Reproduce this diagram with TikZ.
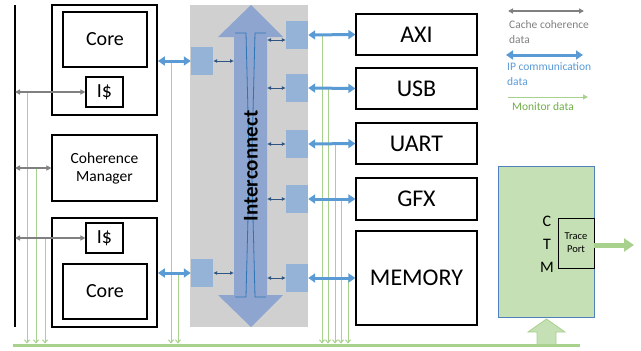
\documentclass[tikz,border=0pt]{standalone}
\usepackage{fontspec}
\setmainfont{Carlito}
\usetikzlibrary{arrows.meta}

\definecolor{ccgray}{RGB}{128,128,128}
\definecolor{ipblue}{RGB}{91,155,213}
\definecolor{nidark}{RGB}{46,84,130}
\definecolor{nifill}{RGB}{149,179,215}
\definecolor{icfill}{RGB}{142,165,207}
\definecolor{icline}{RGB}{46,117,182}
\definecolor{bggray}{RGB}{208,208,208}
\definecolor{monline}{RGB}{169,209,142}
\definecolor{ctmfill}{RGB}{197,224,180}
\definecolor{ctmedge}{RGB}{79,129,189}
\definecolor{mongreen}{RGB}{112,173,71}

\tikzset{
    box/.style={draw=black, line width=1.2pt, inner sep=0pt},
    outerbox/.style={box, line width=1.8pt},
    nibox/.style={fill=nifill, inner sep=0pt, minimum width=22, minimum height=28},
    periph/.style={box, minimum width=121, font=\fontsize{24}{28}\selectfont},
    cc/.style={draw=ccgray, line width=1.5pt, {Triangle[length=5pt,width=5pt]}-{Triangle[length=5pt,width=5pt]}},
    ip/.style={draw=ipblue, line width=3pt, {Triangle[length=7pt,width=9pt]}-{Triangle[length=7pt,width=9pt]}},
    nilink/.style={draw=nidark, line width=0.8pt, {Latex[length=4pt,width=4pt]}-{Latex[length=4pt,width=4pt]}},
    monitor/.style={draw=monline, line width=1pt, -{Straight Barb[length=3pt,width=5pt]}},
    legend/.style={anchor=west, align=left, inner sep=0pt, font=\fontsize{11.5}{15}\selectfont}
}

\begin{document}
\begin{tikzpicture}[x=1pt, y=-1pt]
    \useasboundingbox (0,0) rectangle (641,351);

    % bus lines
    \coordinate (bus) at (15,5);
    \coordinate (busend) at (15,327);
    \coordinate (monL) at (13,345);
    \coordinate (monR) at (580,345);
    \draw[black, line width=1.8pt] (bus) -- (busend);
    \draw[monline, line width=3pt] (monL) -- (monR);

    % interconnect
    \fill[bggray] (190,5) rectangle (308,327);
    \fill[icfill] (251,5) -- (283,37) -- (267,37) -- (267,295) -- (283,295) -- (251,327)
        -- (218,295) -- (234,295) -- (234,37) -- (218,37) -- cycle;
    \draw[icline, line width=0.8pt] (235,33) -- (246,33) -- (249.3,165) -- (246,297) -- (235,297);
    \draw[icline, line width=0.8pt] (266,33) -- (255,33) -- (251.7,165) -- (255,297) -- (266,297);
    \coordinate (shaftL) at (234,0);
    \coordinate (shaftR) at (267,0);
    \node[rotate=90, font=\bfseries\fontsize{21}{24}\selectfont] (ictext) at (251,166) {Interconnect};

    % cores and coherence manager
    \node[outerbox, minimum width=105, minimum height=110] (core1) at (104.5,60) {};
    \node[box, minimum width=84, minimum height=55, font=\fontsize{20}{24}\selectfont] (core1in) at (105,39.5) {Core};
    \node[box, minimum width=37, minimum height=30, font=\fontsize{20}{24}\selectfont] (ic1) at (104.5,92) {I\$};
    \node[box, minimum width=105, minimum height=66, align=center, font=\fontsize{15.5}{18}\selectfont] (cm) at (104.5,168) {Coherence\\Manager};
    \node[outerbox, minimum width=105, minimum height=109] (core2) at (104.5,272.5) {};
    \node[box, minimum width=37, minimum height=30, font=\fontsize{20}{24}\selectfont] (ic2) at (104.5,238) {I\$};
    \node[box, minimum width=84, minimum height=55, font=\fontsize{20}{24}\selectfont] (core2in) at (105,291.5) {Core};

    % network interfaces
    \node[nibox] (nl1) at (202,61) {};
    \node[nibox] (nl2) at (202,273) {};
    \node[nibox] (nr1) at (297,35) {};
    \node[nibox] (nr2) at (297,88) {};
    \node[nibox] (nr3) at (297,144) {};
    \node[nibox] (nr4) at (297,199) {};
    \node[nibox] (nr5) at (297,278) {};

    % peripherals
    \node[periph, minimum height=41] (axi) at (416.5,34.5) {AXI};
    \node[periph, minimum height=41] (usb) at (416.5,88.5) {USB};
    \node[periph, minimum height=41] (uart) at (416.5,143.5) {UART};
    \node[periph, minimum height=42] (gfx) at (416.5,199) {GFX};
    \node[periph, minimum height=94] (mem) at (416.5,278) {MEMORY};

    % monitor taps
    \foreach \x/\n in {27/ic1, 36/cm, 45/ic2, 171/nl1, 178/nl2, 322/nr1, 328/nr2, 335/nr3, 341/nr4, 348/nr5}
        \draw[monitor, shorten >=1.5pt] (\x,0 |- \n.west) -- (\x,0 |- monL);

    % cache coherence
    \draw[cc] (bus |- ic1.west) -- (ic1.west);
    \draw[cc] (bus |- cm.west) -- (cm.west);
    \draw[cc] (bus |- ic2.west) -- (ic2.west);

    % ip communication
    \draw[ip] (nl1.west -| core1.east) -- (nl1.west);
    \draw[ip] (nl2.west -| core2.east) -- (nl2.west);
    \draw[ip] (nr1.east) -- (axi.west);
    \draw[ip] (nr2.east) -- (usb.west);
    \draw[ip] (nr3.east) -- (uart.west);
    \draw[ip] (nr4.east) -- (gfx.west);
    \draw[ip] (nr5.east) -- (mem.west);

    % links to the interconnect
    \draw[nilink] (nl1.east) -- (shaftL |- nl1.east);
    \draw[nilink] (nl2.east) -- (shaftL |- nl2.east);
    \draw[nilink] ([yshift=-5]shaftR |- nr1.west) -- ([yshift=-5]nr1.west);
    \foreach \n in {nr2, nr3, nr4, nr5}
        \draw[nilink] (shaftR |- \n.west) -- (\n.west);

    % CTM
    \node[draw=ctmedge, fill=ctmfill, line width=0.8pt, minimum width=96, minimum height=151] (ctm) at (546,241.5) {};
    \node[draw=black, line width=0.8pt, minimum width=36, minimum height=50, inner sep=0pt, align=center,
        font=\fontsize{10.5}{13}\selectfont] (tp) at (576,243) {Trace\\Port};
    \node[align=center, inner sep=0pt, font=\fontsize{16}{23}\selectfont] (ctmlabel) at (547,244) {C\\T\\M};
    \coordinate (tpend) at (634,245);
    \draw[monline, line width=5pt, -{Triangle[length=10pt,width=13pt]}] (tp.east |- tpend) -- (tpend);
    \draw[monline, fill=ctmfill, line width=0.8pt] (537,344) -- (537,332) -- (528,332) -- (546.5,319)
        -- (565,332) -- (556,332) -- (556,344);

    % legend
    \coordinate (lg1a) at (508,11);
    \coordinate (lg1b) at (584,11);
    \coordinate (lg2a) at (506,55);
    \coordinate (lg2b) at (583,55);
    \coordinate (lg3a) at (508,97);
    \coordinate (lg3b) at (588,97);
    \draw[cc] (lg1a) -- (lg1b);
    \node[legend, text=ccgray] (lgcc) at (509,32.5) {Cache coherence\\data};
    \draw[ip] (lg2a) -- (lg2b);
    \node[legend, text=ipblue] (lgip) at (507,74.5) {IP communication\\data};
    \draw[monitor, -{Triangle[length=5pt,width=5pt]}] (lg3a) -- (lg3b);
    \node[legend, text=mongreen] (lgmon) at (512,107) {Monitor data};
\end{tikzpicture}
\end{document}
